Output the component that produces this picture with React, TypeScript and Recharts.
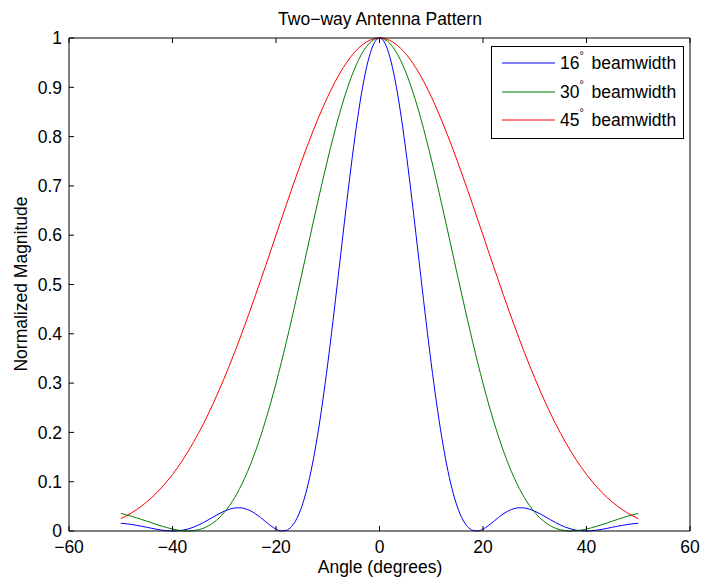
import React from "react";
import { LineChart, Line, XAxis, YAxis, Legend } from "recharts";

const angles = [
  -50, -49, -48, -47, -46, -45, -44, -43, -42, -41,
  -40, -39, -38, -37, -36, -35, -34, -33, -32, -31,
  -30, -29, -28, -27, -26, -25, -24, -23, -22, -21,
  -20, -19, -18, -17, -16, -15, -14, -13, -12, -11,
  -10, -9, -8, -7, -6, -5, -4, -3, -2, -1,
  0, 1, 2, 3, 4, 5, 6, 7, 8, 9,
  10, 11, 12, 13, 14, 15, 16, 17, 18, 19,
  20, 21, 22, 23, 24, 25, 26, 27, 28, 29,
  30, 31, 32, 33, 34, 35, 36, 37, 38, 39,
  40, 41, 42, 43, 44, 45, 46, 47, 48, 49,
  50,
];

const beam16 = [
  0.0157, 0.0147, 0.0133, 0.0116, 0.0097, 0.0076, 0.0054, 0.0034, 0.0017, 0.0005,
  0.0000, 0.0004, 0.0017, 0.0041, 0.0075, 0.0120, 0.0172, 0.0231, 0.0291, 0.0350,
  0.0402, 0.0442, 0.0467, 0.0471, 0.0453, 0.0413, 0.0352, 0.0275, 0.0189, 0.0106,
  0.0039, 0.0002, 0.0014, 0.0091, 0.0249, 0.0503, 0.0864, 0.1336, 0.1921, 0.2612,
  0.3394, 0.4249, 0.5149, 0.6063, 0.6957, 0.7793, 0.8536, 0.9153, 0.9616, 0.9903,
  1.0000, 0.9903, 0.9616, 0.9153, 0.8536, 0.7793, 0.6957, 0.6063, 0.5149, 0.4249,
  0.3394, 0.2612, 0.1921, 0.1336, 0.0864, 0.0503, 0.0249, 0.0091, 0.0014, 0.0002,
  0.0039, 0.0106, 0.0189, 0.0275, 0.0352, 0.0413, 0.0453, 0.0471, 0.0467, 0.0442,
  0.0402, 0.0350, 0.0291, 0.0231, 0.0172, 0.0120, 0.0075, 0.0041, 0.0017, 0.0004,
  0.0000, 0.0005, 0.0017, 0.0034, 0.0054, 0.0076, 0.0097, 0.0116, 0.0133, 0.0147,
  0.0157,
];

const beam30 = [
  0.0357, 0.0330, 0.0301, 0.0269, 0.0235, 0.0200, 0.0165, 0.0130, 0.0097, 0.0067,
  0.0040, 0.0019, 0.0005, 0.0000, 0.0006, 0.0024, 0.0057, 0.0107, 0.0176, 0.0265,
  0.0377, 0.0514, 0.0676, 0.0866, 0.1084, 0.1331, 0.1608, 0.1913, 0.2247, 0.2608,
  0.2995, 0.3405, 0.3836, 0.4285, 0.4747, 0.5218, 0.5694, 0.6171, 0.6641, 0.7101,
  0.7544, 0.7966, 0.8360, 0.8722, 0.9046, 0.9329, 0.9566, 0.9754, 0.9890, 0.9972,
  1.0000, 0.9972, 0.9890, 0.9754, 0.9566, 0.9329, 0.9046, 0.8722, 0.8360, 0.7966,
  0.7544, 0.7101, 0.6641, 0.6171, 0.5694, 0.5218, 0.4747, 0.4285, 0.3836, 0.3405,
  0.2995, 0.2608, 0.2247, 0.1913, 0.1608, 0.1331, 0.1084, 0.0866, 0.0676, 0.0514,
  0.0377, 0.0265, 0.0176, 0.0107, 0.0057, 0.0024, 0.0006, 0.0000, 0.0005, 0.0019,
  0.0040, 0.0067, 0.0097, 0.0130, 0.0165, 0.0200, 0.0235, 0.0269, 0.0301, 0.0330,
  0.0357,
];

const beam45 = [
  0.0249, 0.0302, 0.0361, 0.0428, 0.0503, 0.0587, 0.0679, 0.0781, 0.0893, 0.1015,
  0.1147, 0.1291, 0.1445, 0.1612, 0.1790, 0.1979, 0.2180, 0.2393, 0.2618, 0.2853,
  0.3100, 0.3357, 0.3623, 0.3899, 0.4183, 0.4474, 0.4772, 0.5074, 0.5381, 0.5690,
  0.6001, 0.6311, 0.6619, 0.6923, 0.7222, 0.7515, 0.7798, 0.8071, 0.8332, 0.8579,
  0.8811, 0.9026, 0.9223, 0.9399, 0.9555, 0.9689, 0.9800, 0.9887, 0.9950, 0.9987,
  1.0000, 0.9987, 0.9950, 0.9887, 0.9800, 0.9689, 0.9555, 0.9399, 0.9223, 0.9026,
  0.8811, 0.8579, 0.8332, 0.8071, 0.7798, 0.7515, 0.7222, 0.6923, 0.6619, 0.6311,
  0.6001, 0.5690, 0.5381, 0.5074, 0.4772, 0.4474, 0.4183, 0.3899, 0.3623, 0.3357,
  0.3100, 0.2853, 0.2618, 0.2393, 0.2180, 0.1979, 0.1790, 0.1612, 0.1445, 0.1291,
  0.1147, 0.1015, 0.0893, 0.0781, 0.0679, 0.0587, 0.0503, 0.0428, 0.0361, 0.0302,
  0.0249,
];

const xTicks = [-60, -40, -20, 0, 20, 40, 60];
const yTicks = [0, 0.1, 0.2, 0.3, 0.4, 0.5, 0.6, 0.7, 0.8, 0.9, 1];

const seriesInfo = [
  { key: "b16", label: "16", color: "#0000ff" },
  { key: "b30", label: "30", color: "#008000" },
  { key: "b45", label: "45", color: "#ff0000" },
];

const title = "Two\u2212way Antenna Pattern";
const xLabel = "Angle (degrees)";
const yLabel = "Normalized Magnitude";

const data = angles.map((a, i) => ({
  angle: a,
  b16: beam16[i],
  b30: beam30[i],
  b45: beam45[i],
}));

const FONT = '"Liberation Sans", Arial, Helvetica, sans-serif';
const FS = 17.5;

const fmtX = (v: number) => (v < 0 ? `\u2212${-v}` : `${v}`);
const fmtY = (v: number) => `${v}`;
const fmtNone = () => "";

const renderLegend = () => (
  <svg width={194} height={94} style={{ display: "block" }}>
    <rect x={0.5} y={0.5} width={192} height={92} fill="#ffffff" stroke="#000000" strokeWidth={1} />
    {seriesInfo.map((s, i) => {
      const y = 17 + Math.round(i * 28.7);
      return (
        <g key={s.key}>
          <line x1={11} x2={64} y1={y} y2={y} stroke={s.color} strokeWidth={1} />
          <text x={69} y={y + 6} fontFamily={FONT} fontSize={FS} fill="#000">
            <tspan>{s.label}</tspan>
            <tspan dy={-10} fontSize={11}>{"\u00b0"}</tspan>
            <tspan x={100.5} dy={10}>beamwidth</tspan>
          </text>
        </g>
      );
    })}
  </svg>
);

export default function App() {
  const tickStyle = { fill: "#000", fontSize: FS, fontFamily: FONT };
  return (
    <div style={{ position: "absolute", left: 0, top: 0, width: 703, height: 580, background: "#fff" }}>
      <LineChart width={703} height={580} data={data} margin={{ top: 37, right: 12, bottom: 0, left: 0 }}>
        <XAxis
          xAxisId="b"
          dataKey="angle"
          type="number"
          domain={[-60, 60]}
          ticks={xTicks}
          interval={0}
          orientation="bottom"
          height={49}
          tickSize={-5}
          tickMargin={15}
          stroke="#000"
          tick={tickStyle}
          tickFormatter={fmtX}
        />
        <XAxis
          xAxisId="t"
          dataKey="angle"
          type="number"
          domain={[-60, 60]}
          ticks={xTicks}
          interval={0}
          orientation="top"
          height={1}
          tickSize={-5}
          stroke="#000"
          tick={tickStyle}
          tickFormatter={fmtNone}
        />
        <YAxis
          yAxisId="l"
          type="number"
          domain={[0, 1]}
          ticks={yTicks}
          interval={0}
          orientation="left"
          width={69}
          tickSize={-5}
          tickMargin={12}
          stroke="#000"
          tick={tickStyle}
          tickFormatter={fmtY}
        />
        <YAxis
          yAxisId="r"
          type="number"
          domain={[0, 1]}
          ticks={yTicks}
          interval={0}
          orientation="right"
          width={1}
          tickSize={-5}
          stroke="#000"
          tick={tickStyle}
          tickFormatter={fmtNone}
        />
        {seriesInfo.map((s) => (
          <Line
            key={s.key}
            xAxisId="b"
            yAxisId="l"
            type="monotone"
            dataKey={s.key}
            stroke={s.color}
            strokeWidth={1}
            dot={false}
            activeDot={false}
            isAnimationActive={false}
          />
        ))}
        <Legend
          content={renderLegend}
          layout="horizontal"
          align="center"
          verticalAlign="middle"
          wrapperStyle={{ position: "absolute", left: 491, top: 46, width: 194, height: 94 }}
        />
      </LineChart>
      <svg
        width={703}
        height={580}
        style={{ position: "absolute", left: 0, top: 0, pointerEvents: "none" }}
      >
        <text x={380} y={25} textAnchor="middle" fontFamily={FONT} fontSize={FS} fill="#000">
          {title}
        </text>
        <text x={380} y={573} textAnchor="middle" fontFamily={FONT} fontSize={FS} fill="#000">
          {xLabel}
        </text>
        <text
          transform="translate(27,284) rotate(-90)"
          textAnchor="middle"
          fontFamily={FONT}
          fontSize={FS}
          fill="#000"
        >
          {yLabel}
        </text>
      </svg>
    </div>
  );
}
